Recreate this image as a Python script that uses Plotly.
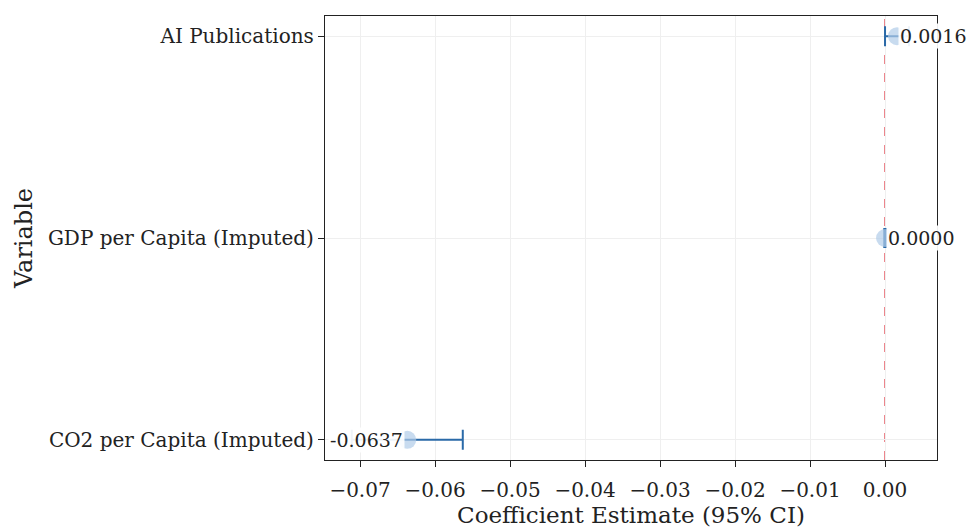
import plotly.graph_objects as go

# Data (bottom-to-top order)
variables = ["CO2 per Capita (Imputed)", "GDP per Capita (Imputed)", "AI Publications"]
coef = [-0.0637, 0.0000, 0.0016]
ci_low = [-0.0711, -0.0001, 0.0000]
ci_high = [-0.0563, 0.0001, 0.0032]
x_ticks = [-0.07, -0.06, -0.05, -0.04, -0.03, -0.02, -0.01, 0.00]
x_ticktext = ["\u22120.07", "\u22120.06", "\u22120.05", "\u22120.04", "\u22120.03", "\u22120.02", "\u22120.01", "0.00"]

FONT = "DejaVu Serif"

err_plus = [h - c for h, c in zip(ci_high, coef)]
err_minus = [c - l for c, l in zip(coef, ci_low)]

fig = go.Figure()
fig.add_trace(go.Scatter(
    x=coef, y=variables, mode="markers",
    marker=dict(size=18, color="rgba(176,204,232,0.7)", line=dict(width=0)),
    error_x=dict(type="data", symmetric=False, array=err_plus, arrayminus=err_minus,
                 color="#2a6aa8", thickness=2, width=10),
    showlegend=False, cliponaxis=False,
))

for v, c in zip(variables, coef):
    fig.add_annotation(
        x=c, y=v, xref="x", yref="y", text=f"{c:.4f}",
        showarrow=False,
        xanchor="right" if c < 0 else "left",
        xshift=-2 if c < 0 else 1,
        font=dict(family=FONT, size=19, color="#222"),
        bgcolor="rgba(255,255,255,0.92)", borderpad=1,
    )

fig.add_shape(type="line", xref="x", yref="paper", x0=0, x1=0, y0=0, y1=1,
              line=dict(color="rgba(228,80,90,0.8)", width=1.8, dash="dash"), layer="below")

fig.update_layout(
    width=968, height=528,
    margin=dict(l=325, r=31, t=16, b=68),
    paper_bgcolor="white", plot_bgcolor="white",
    font=dict(family=FONT, size=20, color="#222"),
    xaxis=dict(
        range=[-0.07467, 0.00693], tickvals=x_ticks, ticktext=x_ticktext,
        showgrid=True, gridcolor="#efefef", gridwidth=1, zeroline=False,
        showline=True, linecolor="#222", linewidth=1.3, mirror=True,
        ticks="outside", ticklen=6, tickcolor="#222", ticklabelstandoff=6,
        tickfont=dict(family=FONT, size=20, color="#222"),
        automargin=False,
        title=dict(text="Coefficient Estimate (95% CI)", font=dict(family=FONT, size=23, color="#222"), standoff=2),
    ),
    yaxis=dict(
        type="category", categoryorder="array", categoryarray=variables,
        range=[-0.1, 2.1],
        showgrid=True, gridcolor="#efefef", gridwidth=1, zeroline=False,
        showline=True, linecolor="#222", linewidth=1.3, mirror=True,
        ticks="outside", ticklen=6, tickcolor="#222",
        tickfont=dict(family=FONT, size=20, color="#222"),
        automargin=False,
        title=dict(text="Variable", font=dict(family=FONT, size=24, color="#222"), standoff=8),
    ),
)

fig.write_html("out.html")
